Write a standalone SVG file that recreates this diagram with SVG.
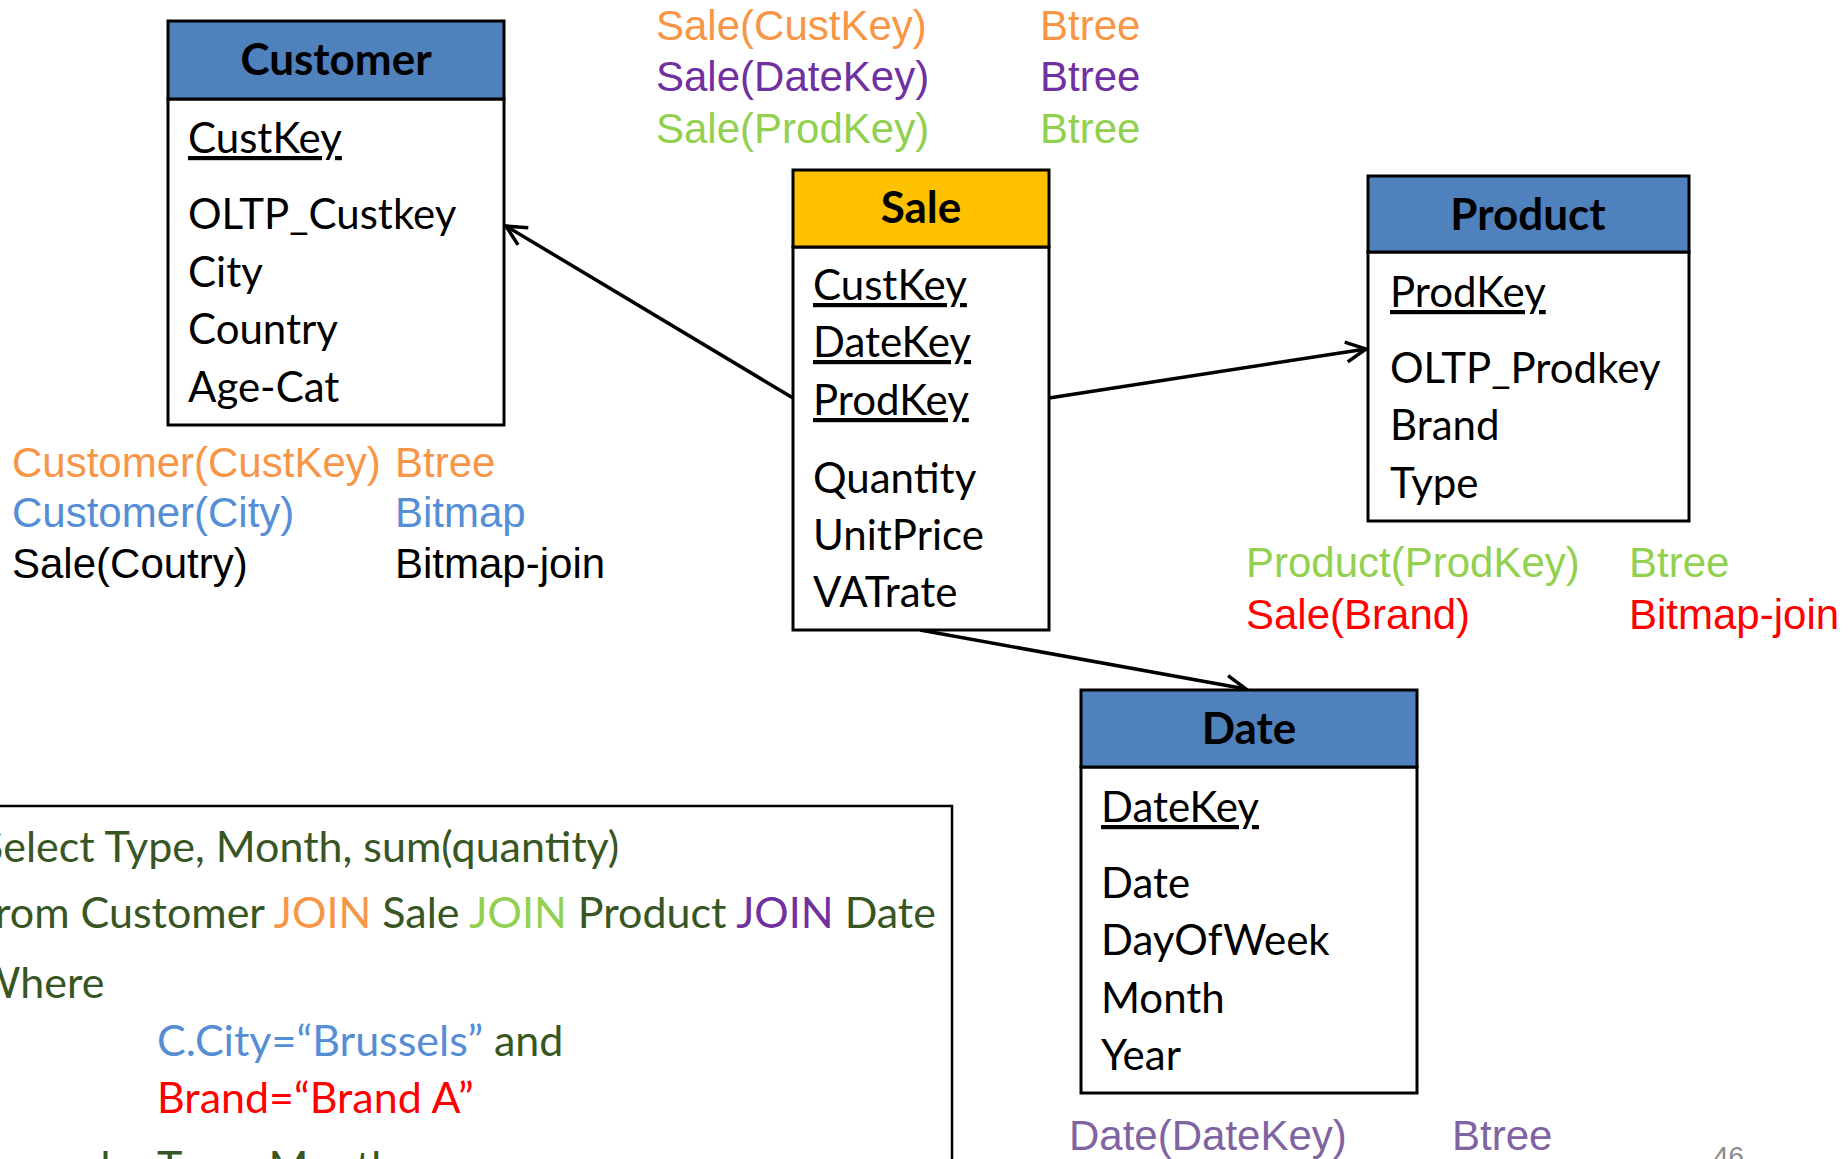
<svg xmlns="http://www.w3.org/2000/svg" width="1848" height="1159" viewBox="0 0 1848 1159">
<style>
.hdr{fill:#4F81BD;stroke:#000;stroke-width:3}
.hdrS{fill:#FFC000;stroke:#000;stroke-width:3}
.body{fill:#fff;stroke:#000;stroke-width:3}
.title{font-family:Lato,"Open Sans",sans-serif;font-weight:bold;font-size:44px;fill:#000;text-anchor:middle}
.fld{font-family:Lato,"Open Sans",sans-serif;font-size:42px;fill:#000}
.key{text-decoration:underline}
.idx{font-family:"Liberation Sans",Arial,sans-serif;font-size:42px}
.q{font-family:Lato,"Open Sans",sans-serif;font-size:43px;fill:#375623}
.conn{stroke:#000;stroke-width:3.5;fill:none}
.or{fill:#F79646}.pu{fill:#7030A0}.gr{fill:#92D050}.bl{fill:#558ED5}.rd{fill:#FF0000}.pl{fill:#8064A2}.bk{fill:#000}
</style>
<defs>
<marker id="arr" markerUnits="userSpaceOnUse" markerWidth="30" markerHeight="30" refX="22" refY="12" orient="auto">
<path d="M2,2 L22,12 L2,22" fill="none" stroke="#000" stroke-width="3.5"/>
</marker>
</defs>
<rect width="1848" height="1159" fill="#fff"/>

<g id="connectors">
<line class="conn" x1="793" y1="398" x2="506" y2="226" marker-end="url(#arr)"/>
<line class="conn" x1="1049" y1="398" x2="1366" y2="349" marker-end="url(#arr)"/>
<line class="conn" x1="920" y1="630" x2="1246" y2="689" marker-end="url(#arr)"/>
</g>

<g id="customer">
<rect class="body" x="168" y="99" width="336" height="326"/>
<rect class="hdr" x="168" y="21" width="336" height="78"/>
<text class="title" x="336" y="75">Customer</text>
<text class="fld key" x="188" y="153">CustKey</text>
<text class="fld" x="188" y="229">OLTP_Custkey</text>
<text class="fld" x="188" y="287">City</text>
<text class="fld" x="188" y="344">Country</text>
<text class="fld" x="188" y="402">Age-Cat</text>
</g>

<g id="sale">
<rect class="body" x="793" y="247" width="256" height="383"/>
<rect class="hdrS" x="793" y="170" width="256" height="77"/>
<text class="title" x="921" y="223">Sale</text>
<text class="fld key" x="813" y="300">CustKey</text>
<text class="fld key" x="813" y="357">DateKey</text>
<text class="fld key" x="813" y="415">ProdKey</text>
<text class="fld" x="813" y="493">Quantity</text>
<text class="fld" x="813" y="550">UnitPrice</text>
<text class="fld" x="813" y="607">VATrate</text>
</g>

<g id="product">
<rect class="body" x="1368" y="252" width="321" height="269"/>
<rect class="hdr" x="1368" y="176" width="321" height="76"/>
<text class="title" x="1528" y="230">Product</text>
<text class="fld key" x="1390" y="307">ProdKey</text>
<text class="fld" x="1390" y="383">OLTP_Prodkey</text>
<text class="fld" x="1390" y="440">Brand</text>
<text class="fld" x="1390" y="498">Type</text>
</g>

<g id="date">
<rect class="body" x="1081" y="767" width="336" height="326"/>
<rect class="hdr" x="1081" y="690" width="336" height="77"/>
<text class="title" x="1249" y="744">Date</text>
<text class="fld key" x="1101" y="822">DateKey</text>
<text class="fld" x="1101" y="898">Date</text>
<text class="fld" x="1101" y="955">DayOfWeek</text>
<text class="fld" x="1101" y="1013">Month</text>
<text class="fld" x="1101" y="1070">Year</text>
</g>

<g id="sale-indexes">
<text class="idx or" x="656" y="40">Sale(CustKey)</text>
<text class="idx or" x="1040" y="40">Btree</text>
<text class="idx pu" x="656" y="91">Sale(DateKey)</text>
<text class="idx pu" x="1040" y="91">Btree</text>
<text class="idx gr" x="656" y="143">Sale(ProdKey)</text>
<text class="idx gr" x="1040" y="143">Btree</text>
</g>

<g id="customer-indexes">
<text class="idx or" x="12" y="477">Customer(CustKey)</text>
<text class="idx or" x="395" y="477">Btree</text>
<text class="idx bl" x="12" y="527">Customer(City)</text>
<text class="idx bl" x="395" y="527">Bitmap</text>
<text class="idx bk" x="12" y="578">Sale(Coutry)</text>
<text class="idx bk" x="395" y="578">Bitmap-join</text>
</g>

<g id="product-indexes">
<text class="idx gr" x="1246" y="577">Product(ProdKey)</text>
<text class="idx gr" x="1629" y="577">Btree</text>
<text class="idx rd" x="1246" y="629">Sale(Brand)</text>
<text class="idx rd" x="1629" y="629">Bitmap-join</text>
</g>

<g id="date-indexes">
<text class="idx pl" x="1069" y="1150">Date(DateKey)</text>
<text class="idx pl" x="1452" y="1150">Btree</text>
</g>

<g id="query">
<rect x="-10" y="806" width="962" height="400" fill="none" stroke="#000" stroke-width="2.5"/>
<text class="q" x="-20" y="862">Select Type, Month, sum(quantity)</text>
<text class="q" x="-20" y="928">from Customer <tspan class="or">JOIN</tspan> Sale <tspan class="gr">JOIN</tspan> Product <tspan class="pu">JOIN</tspan> Date</text>
<text class="q" x="-24" y="998">Where</text>
<text class="q" x="157" y="1056"><tspan class="bl">C.City=“Brussels”</tspan> and</text>
<text class="q rd" x="157" y="1113">Brand=“Brand A”</text>
<text class="q" x="-20" y="1182">group by</text>
<text class="q" x="157" y="1182">Type, Month</text>
</g>

<text x="1713" y="1166" font-family="'Liberation Sans',Arial,sans-serif" font-size="28" fill="#8B8B8B">46</text>
</svg>
